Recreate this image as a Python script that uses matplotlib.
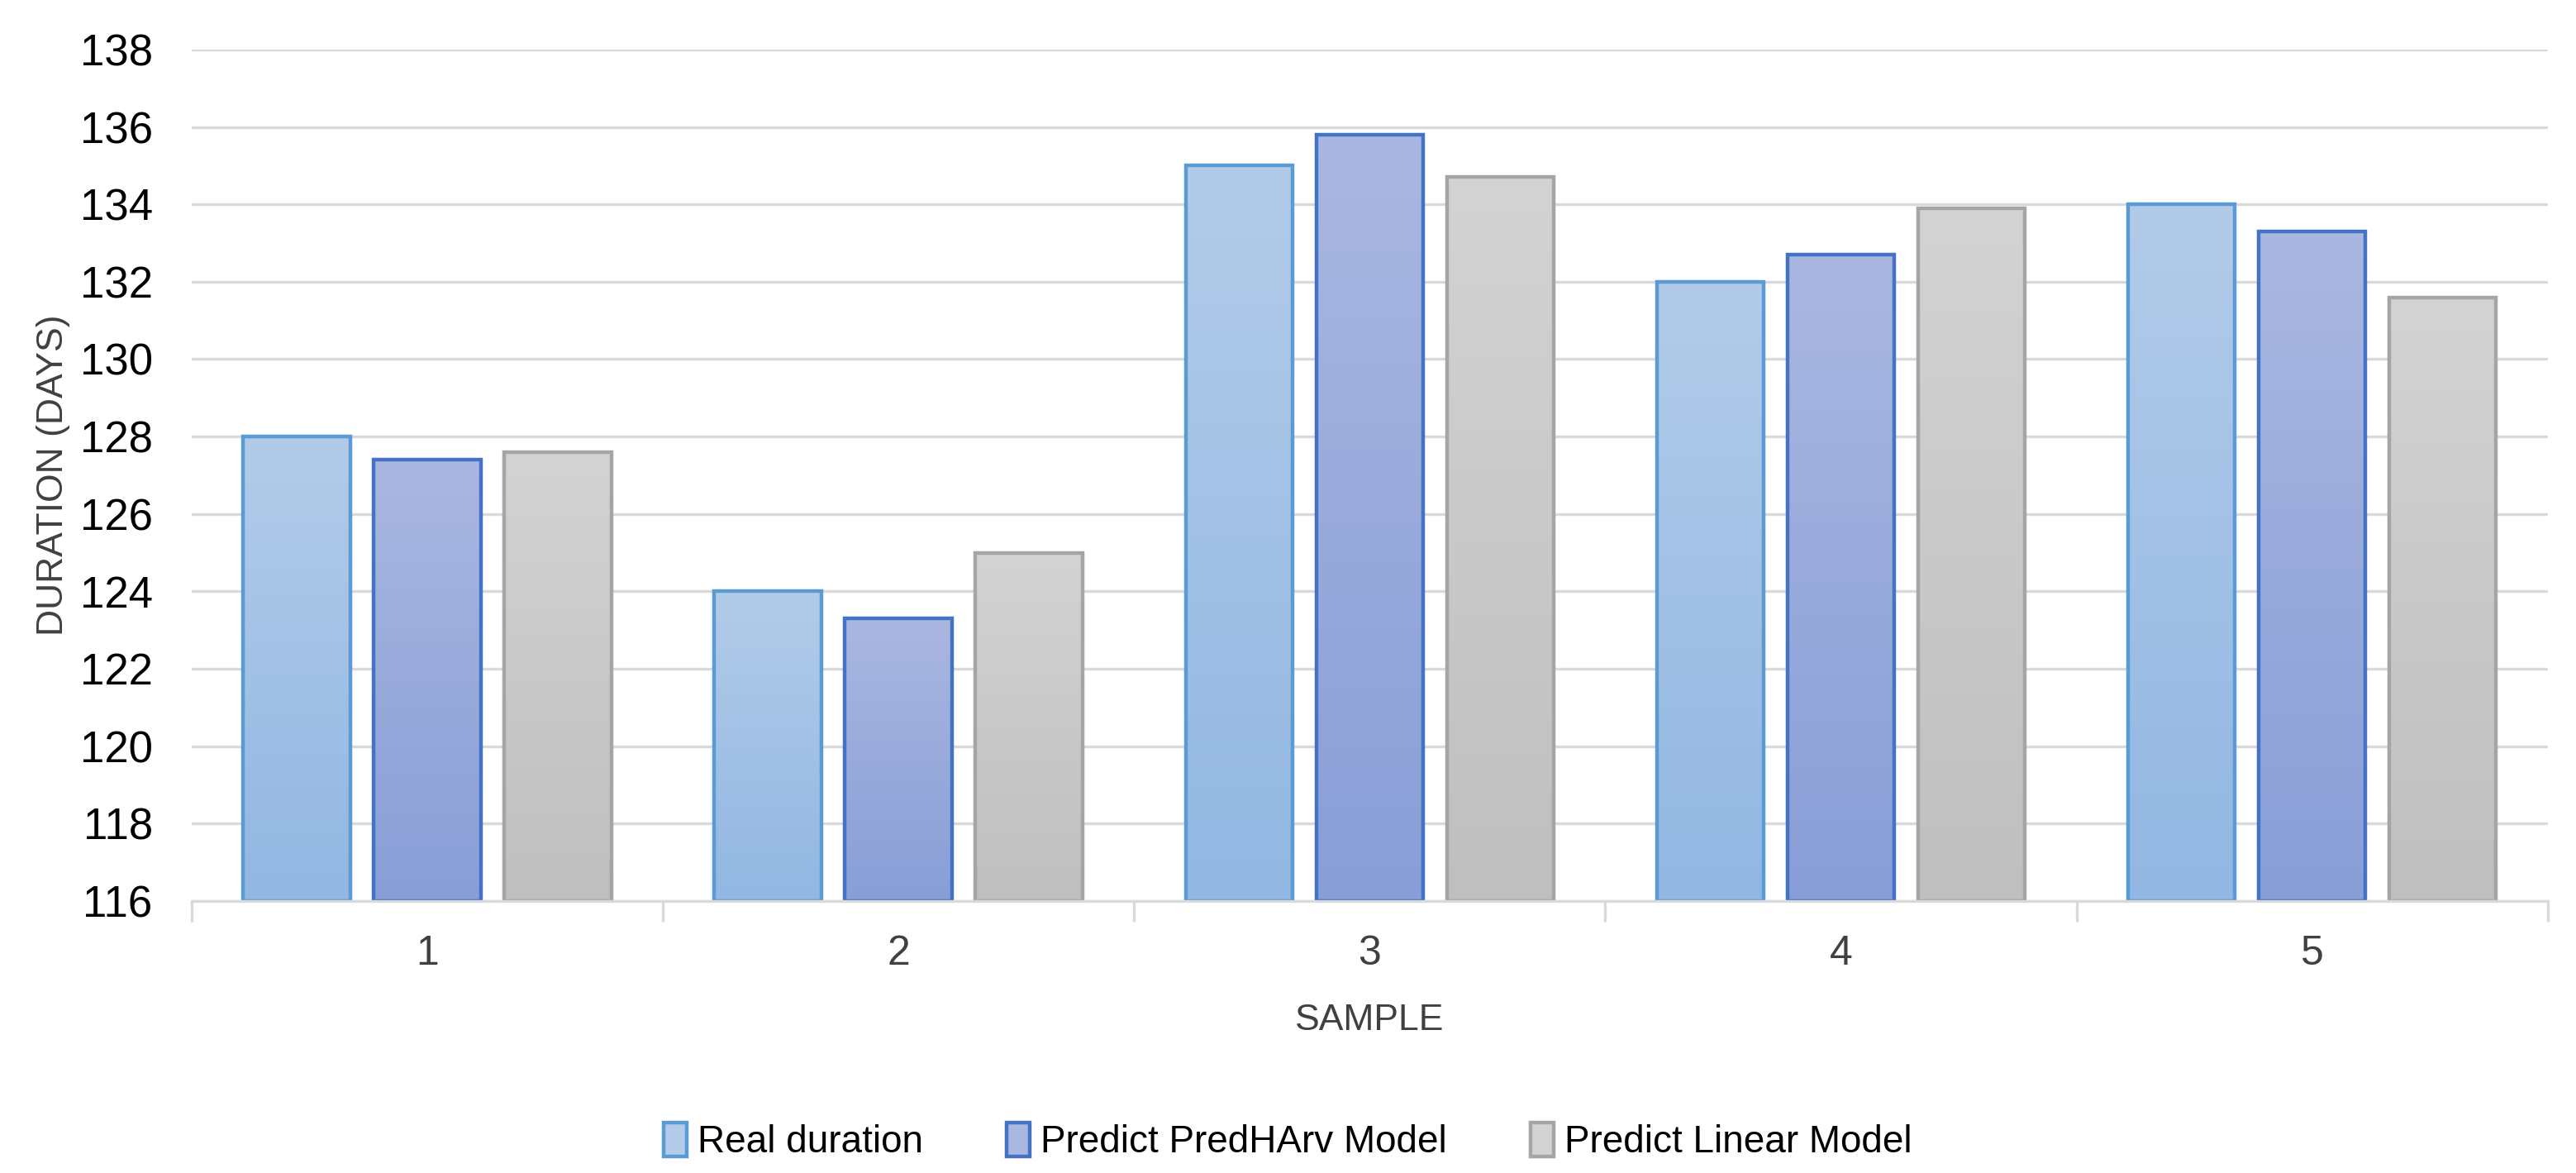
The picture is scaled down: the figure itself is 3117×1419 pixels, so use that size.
import numpy as np
import matplotlib.pyplot as plt
from matplotlib import font_manager
from matplotlib.colors import LinearSegmentedColormap
from matplotlib.patches import Rectangle

# Data
samples = ['1', '2', '3', '4', '5']
real_duration = [128.0, 124.0, 135.0, 132.0, 134.0]
predict_predharv = [127.4, 123.3, 135.8, 132.7, 133.3]
predict_linear = [127.6, 125.0, 134.7, 133.9, 131.6]
series_names = ['Real duration', 'Predict PredHArv Model', 'Predict Linear Model']

# Original looks like Calibri; Liberation Sans is the closest narrow-ish one here
names = {f.name for f in font_manager.fontManager.ttflist}
font = 'Liberation Sans' if 'Liberation Sans' in names else 'DejaVu Sans'
plt.rcParams['font.family'] = [font, 'DejaVu Sans']

# top colour, bottom colour, edge colour
styles = [
    ('#B2CBE9', '#92B7E2', '#5B9BD5'),
    ('#AAB7E0', '#889ED7', '#4472C4'),
    ('#D3D3D3', '#BFBFBF', '#A5A5A5'),
]

fig = plt.figure(figsize=(15.585, 7.095), dpi=200)
ax = fig.add_axes([0.0744, 0.232, 0.9146, 0.7257])

x = np.arange(len(samples))
width = 0.227
step = 0.277
ymin, ymax = 116, 138
all_series = [real_duration, predict_predharv, predict_linear]

handles = []
for i, values in enumerate(all_series):
    top, bottom, edge = styles[i]
    cmap = LinearSegmentedColormap.from_list('g%d' % i, [bottom, top])
    bars = ax.bar(x + (i - 1) * step, np.array(values) - ymin, width, bottom=ymin,
                  facecolor='none', edgecolor=edge, linewidth=1.6, zorder=3)
    for b in bars:
        x0, y0 = b.get_x(), b.get_y()
        w, h = b.get_width(), b.get_height()
        grad = np.linspace(0, 1, 256).reshape(-1, 1)
        im = ax.imshow(grad, cmap=cmap, origin='lower', aspect='auto',
                       extent=(x0, x0 + w, y0, y0 + h), zorder=2, interpolation='bilinear')
        im.set_clip_path(b)
    handles.append(Rectangle((0, 0), 1, 1, facecolor=top, edgecolor=edge, linewidth=1.6))

ax.set_xlim(-0.5, len(samples) - 0.5)
ax.set_ylim(ymin, ymax)
ax.set_yticks(np.arange(ymin, ymax + 1, 2))
ax.set_xticks(x)
ax.set_xticklabels(samples)
ax.set_xticks(np.arange(-0.5, len(samples), 1), minor=True)

ax.grid(axis='y', color='#D9D9D9', linewidth=1.2, zorder=0)
ax.set_axisbelow(True)
for s in ['top', 'right', 'left']:
    ax.spines[s].set_visible(False)
ax.spines['bottom'].set_color('#D9D9D9')
ax.spines['bottom'].set_linewidth(1.2)
ax.spines['bottom'].set_zorder(4)

ax.tick_params(axis='y', length=0, labelsize=19, pad=17, labelcolor='#000000')
ax.tick_params(axis='x', which='major', length=0, labelsize=18, pad=15, labelcolor='#404040')
ax.tick_params(axis='x', which='minor', length=9, width=1.2, color='#D9D9D9')

ax.set_xlabel('SAMPLE', fontsize=16, color='#404040', labelpad=13)
ax.set_ylabel('DURATION (DAYS)', fontsize=16, color='#404040', labelpad=4)

fig.legend(handles, series_names, loc='center', bbox_to_anchor=(0.5, 0.027), ncol=3,
           frameon=False, fontsize=16.5, handlelength=0.6, handleheight=1.0,
           handletextpad=0.3, columnspacing=2.2)

fig.savefig('out.png', dpi=200, facecolor='white')
